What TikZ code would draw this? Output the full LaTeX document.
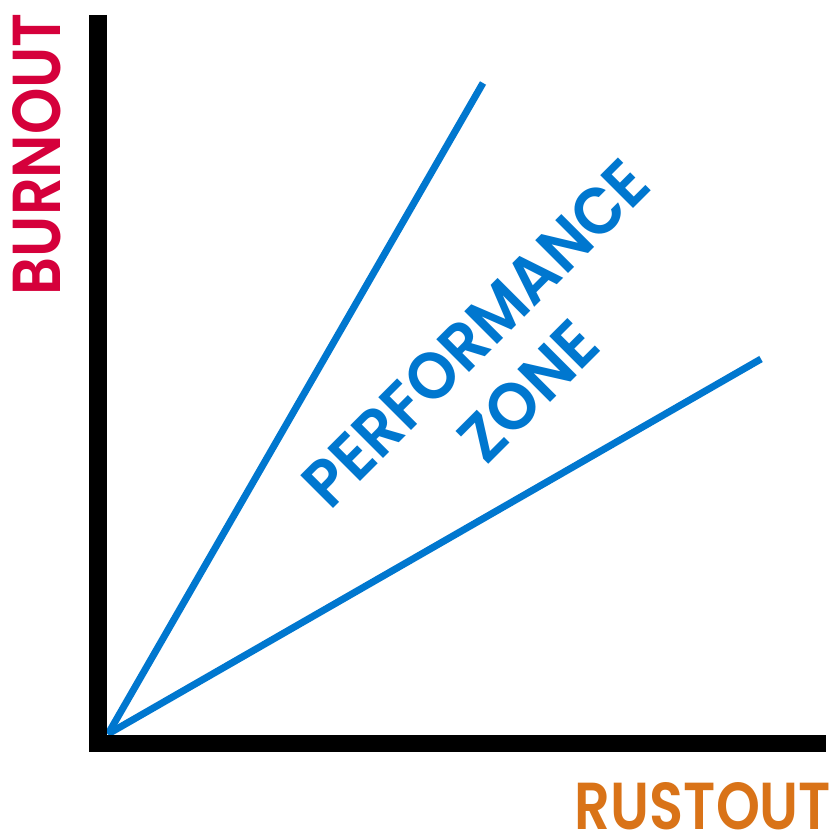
\documentclass[tikz,border=0pt]{standalone}
\usepackage{fontspec}
\setmainfont{Poppins}[BoldFont={Poppins SemiBold}]
\usepackage{graphicx}
\definecolor{zoneblue}{HTML}{0077CF}
\definecolor{burnred}{HTML}{D5003B}
\definecolor{rustorange}{HTML}{D97318}
\tikzset{
  blueline/.style={draw=zoneblue, line width=7pt, line cap=butt},
  axisline/.style={draw=black, line width=17.5pt, line join=miter, line cap=butt},
  lbl/.style={inner sep=0pt, outer sep=0pt, anchor=center, font=\bfseries}
}
\begin{document}
\begin{tikzpicture}[x=1pt,y=-1pt]
\useasboundingbox[fill=white] (0,0) rectangle (832,832);
\coordinate (O) at (108,734);
\coordinate (A) at (483,83);
\coordinate (B) at (761,359);
\draw[blueline] (O) -- (A);
\draw[blueline] (O) -- (B);
\coordinate (Ytop) at (98,15);
\coordinate (Corner) at (98,743.5);
\coordinate (Xend) at (826,743.5);
\draw[axisline] (Ytop) -- (Corner) -- (Xend);
\node[lbl, text=burnred, rotate=90] (burnout) at (37,154) {\resizebox{282pt}{48pt}{BURNOUT}};
\node[lbl, text=rustorange] (rustout) at (703,806.5) {\resizebox{256pt}{47pt}{RUSTOUT}};
\node[lbl, text=zoneblue, rotate=45] (perf) at (476,333) {\resizebox{457pt}{47pt}{PERFORMANCE}};
\node[lbl, text=zoneblue, rotate=45] (zone) at (528.5,391) {\resizebox{166pt}{47pt}{ZONE}};
\end{tikzpicture}
\end{document}
